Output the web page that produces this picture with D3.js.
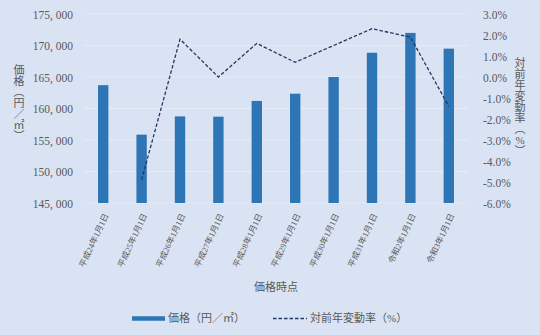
<!DOCTYPE html>
<html>
<head>
<meta charset="utf-8">
<script src="https://cdn.jsdelivr.net/npm/d3@7"></script>
<style>
  body { margin: 0; background: #dae3f3; }
  svg text { font-family: "Liberation Serif", "Noto Sans CJK JP", serif; fill: #595959; }
</style>
</head>
<body>
<script>
// data
var dates = ['平成24年1月1日', '平成25年1月1日', '平成26年1月1日', '平成27年1月1日', '平成28年1月1日',
             '平成29年1月1日', '平成30年1月1日', '平成31年1月1日', '令和2年1月1日', '令和3年1月1日'];
var prices = [163700, 155850, 158750, 158700, 161200, 162350, 165000, 168850, 172000, 169500];
var changes = [null, -4.9, 1.8, 0.0, 1.6, 0.7, 1.5, 2.3, 1.9, -1.4];
var leftTicks = [145000, 150000, 155000, 160000, 165000, 170000, 175000];
var rightTicks = [-6, -5, -4, -3, -2, -1, 0, 1, 2, 3];

var width = 540, height = 335;
var margin = { top: 14, left: 84, right: 72, bottom: 132 };

var svg = d3.select('body').append('svg')
            .attr('width', width)
            .attr('height', height);

svg.append('rect')
   .attr('width', width)
   .attr('height', height)
   .attr('fill', '#dae3f3');

var x = d3.scaleBand()
          .domain(dates)
          .range([margin.left, width - margin.right])
          .paddingInner(0.73)
          .paddingOuter(0.365);

var y = d3.scaleLinear()
          .domain([145000, 175000])
          .range([height - margin.bottom, margin.top]);

var y2 = d3.scaleLinear()
           .domain([-6, 3])
           .range([height - margin.bottom, margin.top]);

// gridlines
svg.append('g')
   .selectAll('line')
   .data(leftTicks)
   .enter()
   .append('line')
   .attr('x1', margin.left)
   .attr('x2', width - margin.right)
   .attr('y1', function(d) { return y(d); })
   .attr('y2', function(d) { return y(d); })
   .attr('stroke', '#e6ebf5')
   .attr('stroke-width', 1);

// left axis
var leftAxis = svg.append('g')
   .attr('transform', 'translate(' + (margin.left - 8) + ',0)')
   .call(d3.axisLeft(y).tickValues(leftTicks).tickSize(0).tickFormat(function(d) { return d3.format(',')(d).replace(',', ', '); }));
leftAxis.select('.domain').remove();
leftAxis.selectAll('text').attr('font-size', 11.5).attr('dy', '0.35em').style('white-space', 'pre');

// right axis
var rightAxis = svg.append('g')
   .attr('transform', 'translate(' + (width - margin.right + 12) + ',0)')
   .call(d3.axisRight(y2).tickValues(rightTicks).tickSize(0).tickFormat(function(d) { return d.toFixed(1) + '%'; }));
rightAxis.select('.domain').remove();
rightAxis.selectAll('text').attr('font-size', 11.5).attr('dy', '0.35em');

// bars
svg.append('g')
   .selectAll('rect')
   .data(prices)
   .enter()
   .append('rect')
   .attr('x', function(d, i) { return x(dates[i]); })
   .attr('y', function(d) { return y(d); })
   .attr('width', x.bandwidth())
   .attr('height', function(d) { return y(145000) - y(d); })
   .attr('fill', '#2e75b6');

// change line
var line = d3.line()
             .defined(function(d) { return d != null; })
             .x(function(d, i) { return x(dates[i]) + x.bandwidth() / 2; })
             .y(function(d) { return y2(d); });

svg.append('path')
   .datum(changes)
   .attr('d', line)
   .attr('fill', 'none')
   .attr('stroke', '#203864')
   .attr('stroke-width', 1.3)
   .attr('stroke-dasharray', '3.5,2');

// x labels
svg.append('g')
   .selectAll('text')
   .data(dates)
   .enter()
   .append('text')
   .attr('transform', function(d) {
     return 'translate(' + (x(d) + x.bandwidth() / 2 + 3) + ',' + (height - margin.bottom + 11) + ') rotate(-65)';
   })
   .attr('text-anchor', 'end')
   .attr('font-size', 8.3)
   .attr('dy', '0.35em')
   .text(function(d) { return d; });

// axis titles
svg.append('text')
   .attr('x', (margin.left + width - margin.right) / 2)
   .attr('y', 291)
   .attr('text-anchor', 'middle')
   .attr('font-size', 11)
   .text('価格時点');

// vertical titles, one character per row
var verticalText = function(chars, cx, top, step) {
  svg.append('text')
     .attr('font-size', 11)
     .attr('text-anchor', 'middle')
     .selectAll('tspan')
     .data(chars)
     .enter()
     .append('tspan')
     .attr('x', cx)
     .attr('y', function(d, i) { return top + i * step; })
     .attr('dy', '0.35em')
     .text(function(d) { return d; });
};
verticalText(['価', '格', '︵', '円', '／', '㎡', '︶'], 19, 70, 11);
verticalText(['対', '前', '年', '変', '動', '率', '︵', '%', '︶'], 520, 63, 11);

// legend
var legend = svg.append('g');
legend.append('line')
      .attr('x1', 132).attr('x2', 165)
      .attr('y1', 318.5).attr('y2', 318.5)
      .attr('stroke', '#2e75b6')
      .attr('stroke-width', 4.5);
legend.append('text')
      .attr('x', 168).attr('y', 318.5)
      .attr('dy', '0.35em')
      .attr('font-size', 11)
      .text('価格（円／㎡）');
legend.append('line')
      .attr('x1', 273).attr('x2', 307)
      .attr('y1', 318.5).attr('y2', 318.5)
      .attr('stroke', '#203864')
      .attr('stroke-width', 1.3)
      .attr('stroke-dasharray', '3.5,2');
legend.append('text')
      .attr('x', 310).attr('y', 318.5)
      .attr('dy', '0.35em')
      .attr('font-size', 11)
      .text('対前年変動率（%）');
</script>
</body>
</html>
